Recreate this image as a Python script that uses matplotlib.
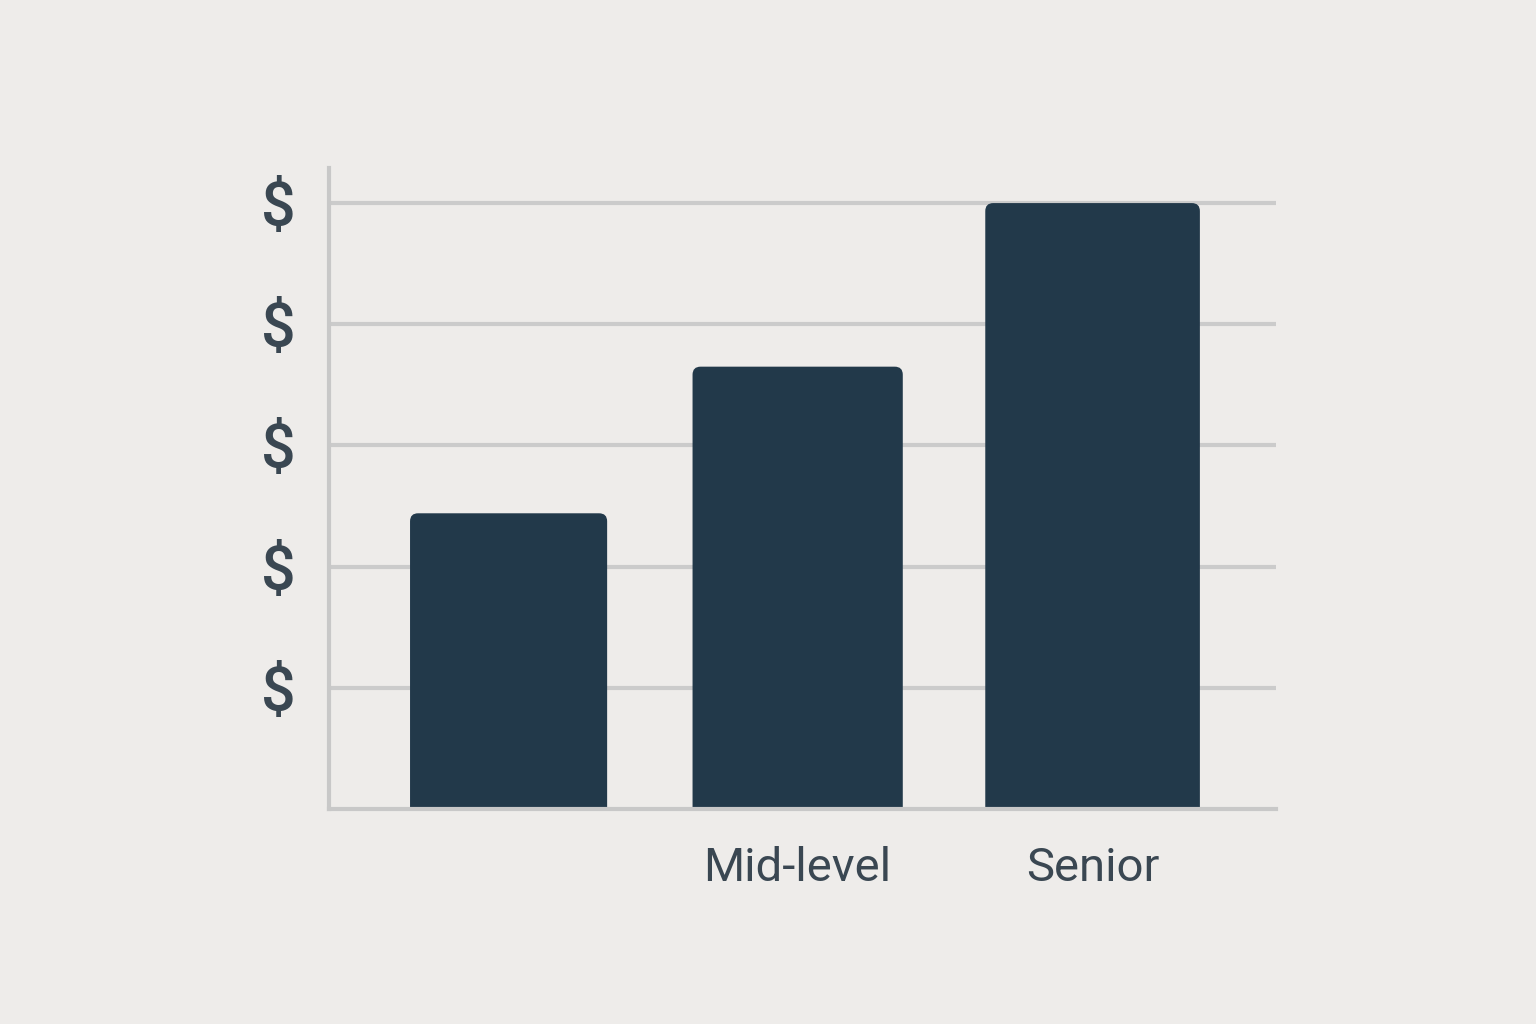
import matplotlib
matplotlib.use("Agg")
import matplotlib.pyplot as plt
from matplotlib.patches import FancyBboxPatch

categories = ["", "Mid-level", "Senior"]
values = [2.44, 3.65, 5.0]
bar_widths = [0.675, 0.72, 0.735]
positions = [0, 0.99, 2.0]
y_ticks = [1, 2, 3, 4, 5]
y_tick_labels = ["$", "$", "$", "$", "$"]

BG = "#EEECEA"
BAR = "#22394A"
GRID = "#CBCBCB"
TEXT = "#3A4752"

fig = plt.figure(figsize=(15.36, 10.24), dpi=100, facecolor=BG)
ax = fig.add_axes([0.2142, 0.21, 0.6165, 0.626])
ax.set_facecolor(BG)

bars = ax.bar(positions, values, width=bar_widths, color=BAR, zorder=3)
ax.set_xlim(-0.615, 2.628)
ax.set_ylim(0, 5.29)

# replace with top-rounded bars (bottom corners hidden below the axis)
fig.canvas.draw()
xpx = ax.transData.transform([(0, 0), (1, 1)])
sx = xpx[1, 0] - xpx[0, 0]
sy = xpx[1, 1] - xpx[0, 1]
r_px = 8
for b in bars:
    x, w, h = b.get_x(), b.get_width(), b.get_height()
    b.set_visible(False)
    rx = r_px / sx
    ry = r_px / sy
    p = FancyBboxPatch((x, -3 * ry), w, h + 3 * ry,
                       boxstyle=f"round,pad=0,rounding_size={rx}",
                       mutation_aspect=ry / rx, facecolor=BAR, edgecolor="none",
                       zorder=3)
    ax.add_patch(p)
    p.set_clip_path(ax.patch)

ax.set_yticks(y_ticks)
ax.set_yticklabels(y_tick_labels, fontsize=44, color=TEXT, family="Roboto", fontweight="medium")
ax.set_xticks(positions)
ax.set_xticklabels(categories, fontsize=34, color=TEXT, family="Roboto")
ax.tick_params(axis="y", length=0, pad=24)
ax.tick_params(axis="x", length=0, pad=27)
ax.grid(axis="y", color=GRID, linewidth=3, zorder=0)
for s in ["top", "right"]:
    ax.spines[s].set_visible(False)
for s in ["left", "bottom"]:
    ax.spines[s].set_color("#C8C8C8")
    ax.spines[s].set_linewidth(3)
    ax.spines[s].set_zorder(4)

fig.savefig("out.png", dpi=100, facecolor=BG)
